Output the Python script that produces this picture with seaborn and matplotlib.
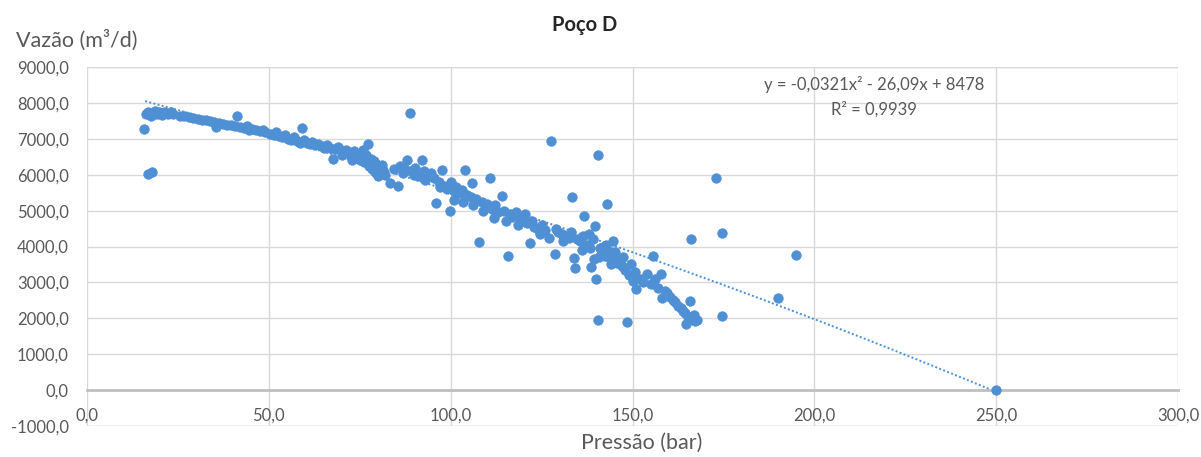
import numpy as np
import pandas as pd
import matplotlib
matplotlib.use("Agg")
import matplotlib.pyplot as plt
import seaborn as sns
from matplotlib.ticker import FuncFormatter, MultipleLocator

# Well D: flow rate versus pressure
pressao = [
    15.7, 16.8, 17.9,
    16.2, 16.8, 17.5, 18.0, 18.6, 19.2, 19.9, 20.5, 21.1, 21.8, 22.4, 23.0, 23.6,
    25.5, 26.8, 28.0, 29.2, 30.4, 31.5, 32.6, 33.8, 35.0, 35.6, 36.2, 37.4, 38.5,
    39.6, 40.8, 41.2, 42.0, 43.1, 44.0, 44.6, 45.5, 46.5, 47.6, 48.5, 49.0, 50.2,
    51.3, 52.0, 52.8, 53.6, 54.5, 55.3, 56.2, 57.0, 57.8, 58.6, 59.0, 59.8, 60.5,
    61.3, 62.0, 62.8, 63.6, 64.5, 65.2, 66.0, 66.8, 67.6, 68.3, 69.0, 69.8, 70.5,
    71.2, 72.0, 72.7, 73.4, 74.0, 74.6, 75.2, 75.8, 76.3, 76.8, 77.2, 77.6, 78.0,
    78.4, 78.8, 79.2, 79.6, 80.0, 80.5, 81.0, 81.5,
    83.2, 85.5, 84.5, 86.0, 87.0, 88.0, 88.7, 89.2, 90.2, 91.0, 92.0, 92.8, 93.6,
    94.5, 95.3, 96.0, 96.8, 97.6, 98.2, 99.0, 99.7, 100.2, 100.8, 101.5, 102.2,
    103.0, 104.0, 104.5, 105.5, 106.0, 107.0, 107.7, 108.5, 110.0, 110.7, 111.5,
    112.3, 113.0, 114.0, 114.8, 115.7, 116.3, 117.0, 118.0, 119.0, 120.0, 121.0,
    121.7, 122.5, 123.0, 124.0, 125.0, 126.0, 127.7, 128.6, 129.5, 130.5, 131.5,
    132.5, 133.5, 134.0, 134.3, 134.8, 135.5, 136.3, 136.8, 137.5, 138.2, 138.7,
    139.2, 139.6, 140.0, 140.4, 140.5, 141.0, 141.5, 142.0, 142.5, 143.0, 143.5,
    144.0, 144.5, 145.0, 145.8, 146.5, 147.2, 148.0, 148.6, 149.0, 149.6, 150.2,
    150.8, 151.0, 152.0, 153.0, 154.0, 155.0, 155.5, 156.2, 157.0, 157.8, 158.2,
    158.8, 159.5, 160.2, 161.0, 161.8, 162.5, 163.2, 163.8, 164.5, 164.8, 165.3,
    165.7, 166.0, 166.3, 166.8, 167.3, 167.8,
    173.0, 174.7, 174.7, 190.0, 195.0, 250.0,
    101.0, 103.5, 106.2, 109.0, 112.0, 115.2, 118.4, 120.5, 124.5, 127.0, 129.0,
    131.0, 133.0, 136.0, 138.0, 140.8, 142.8, 145.3, 147.5, 144.2, 139.5, 97.0,
    93.0, 90.0, 87.5, 82.0, 79.9, 76.0, 73.0, 70.0,
]
vazao = [
    7280, 6010, 6080,
    7700, 7760, 7640, 7720, 7780, 7700, 7740, 7680, 7760, 7720, 7700, 7750, 7690,
    7650, 7630, 7600, 7580, 7560, 7540, 7520, 7490, 7470, 7340, 7450, 7430, 7400,
    7380, 7350, 7640, 7330, 7300, 7360, 7240, 7290, 7250, 7220, 7260, 7180, 7150,
    7120, 7200, 7090, 7050, 7120, 7010, 6980, 7040, 6940, 6900, 7300, 6960, 6880,
    6850, 6920, 6820, 6870, 6800, 6760, 6830, 6740, 6450, 6720, 6780, 6680, 6620,
    6700, 6600, 6540, 6650, 6480, 6580, 6420, 6700, 6350, 6550, 6870, 6250, 6450,
    6150, 6380, 6080, 6300, 6200, 6050, 6280, 6120,
    5780, 5700, 6150, 6250, 6050, 6400, 7710, 6100, 6200, 5980, 6400, 6100, 5950,
    6050, 5900, 5220, 5800, 6120, 5700, 5600, 5000, 5800, 5550, 5650, 5500,
    5580, 6120, 5450, 5380, 5780, 5330, 4130, 5250, 5180, 5920, 5050,
    5150, 4950, 5420, 5000, 3740, 4900, 4820, 4950, 4780, 4700, 4650,
    4100, 4720, 4550, 4480, 4600, 4450, 6930, 3800, 4400, 4350, 4300,
    4250, 5390, 3690, 3410, 4200, 4150, 4300, 4860, 4050, 3950, 3440,
    4200, 4580, 3100, 6540, 1950, 3950, 3850, 4000, 3750, 5195, 3700,
    3850, 4160, 3650, 3550, 3600, 3450, 3350, 1900, 3200, 3520, 3050,
    3300, 2820, 3100, 3000, 3240, 2950, 3740, 3100, 2850, 3240, 2570,
    2750, 2700, 2600, 2500, 2450, 2350, 2300, 2200, 2150, 1840, 2050,
    2490, 4220, 1980, 2100, 1920, 1950,
    5920, 4390, 2070, 2570, 3770, 0,
    5300, 5250, 5150, 5000, 4800, 4700, 4600, 4900, 4350, 4250, 4500,
    4150, 4400, 3900, 4350, 3700, 4050, 3850, 3700, 3500, 3650, 5650,
    5850, 6000, 6150, 6000, 5980, 6600, 6400, 6550,
]

# Quadratic trend reported on the chart
coef_a, coef_b, coef_c = -0.0321, -26.09, 8478
r2 = 0.9939

df = pd.DataFrame({"Pressão (bar)": pressao, "Vazão (m³/d)": vazao})

sns.set_theme(style="white")
plt.rcParams["font.family"] = ["Lato", "DejaVu Sans"]

blue = "#4F8FD3"
grid_c = "#D9D9D9"
text_c = "#595959"

fig = plt.figure(figsize=(12.01, 4.57), dpi=100)
ax = fig.add_axes([0.0724, 0.068, 0.9085, 0.785])

# trendline (dotted)
xt = np.linspace(16, 250, 200)
yt = coef_a * xt**2 + coef_b * xt + coef_c
ax.plot(xt, yt, linestyle=(0, (1, 1.2)), color=blue, linewidth=1.4, zorder=2)

sns.scatterplot(data=df, x="Pressão (bar)", y="Vazão (m³/d)", ax=ax,
                color=blue, s=50, edgecolor=blue, linewidth=0.3, zorder=3)

ax.set_xlim(0, 300)
ax.set_ylim(-1000, 9000)
ax.xaxis.set_major_locator(MultipleLocator(50))
ax.yaxis.set_major_locator(MultipleLocator(1000))
fmt = FuncFormatter(lambda v, p: f"{v:.1f}".replace(".", ","))
ax.xaxis.set_major_formatter(fmt)
ax.yaxis.set_major_formatter(fmt)

ax.grid(True, color=grid_c, linewidth=1.0)
ax.set_axisbelow(True)
for side in ["top", "right", "left"]:
    ax.spines[side].set_visible(False)
ax.spines["bottom"].set_position(("data", 0))
ax.spines["bottom"].set_color("#BFBFBF")
ax.spines["bottom"].set_linewidth(2.0)
ax.axhline(-1000, color=grid_c, linewidth=1.0, zorder=0)
ax.axhline(9000, color=grid_c, linewidth=1.0, zorder=0)

ax.tick_params(axis="both", length=0, labelsize=12, labelcolor=text_c)
ax.tick_params(axis="y", pad=13)
ax.tick_params(axis="x", pad=13)

ax.set_xlabel("")
ax.set_ylabel("")
fig.text(0.534, 0.031, "Pressão (bar)", ha="center", va="center",
         fontsize=15.5, color=text_c)
fig.text(0.013, 0.912, "Vazão (m³/d)", ha="left", va="center",
         fontsize=15.5, color=text_c)
fig.text(0.487, 0.945, "Poço D", ha="center", va="center",
         fontsize=14.5, fontweight="bold", color="#262626")

fig.text(0.728, 0.816, "y = -0,0321x² - 26,09x + 8478",
         ha="center", va="center", fontsize=12, color=text_c)
fig.text(0.728, 0.761, f"R² = {r2:.4f}".replace(".", ","),
         ha="center", va="center", fontsize=12, color=text_c)

fig.savefig("out.png", dpi=100, facecolor="white")
